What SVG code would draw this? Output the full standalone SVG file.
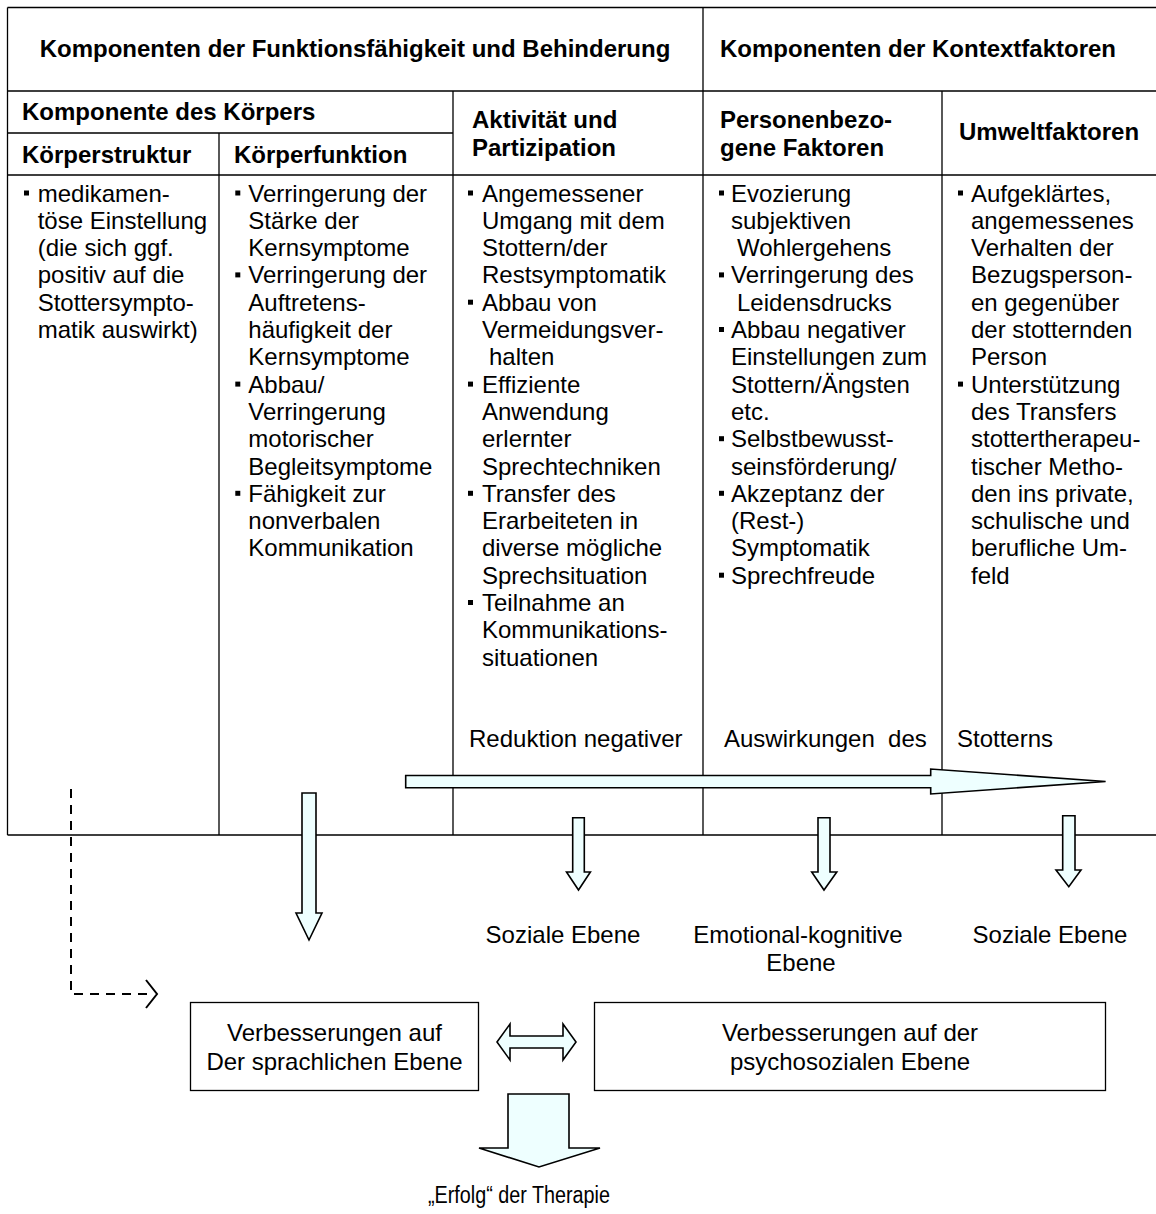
<svg xmlns="http://www.w3.org/2000/svg" width="1156" height="1214" viewBox="0 0 1156 1214">
<style>
.t{font-family:"Liberation Sans",Arial,sans-serif;font-size:24px;fill:#000}
.b{font-weight:bold}
.m{text-anchor:middle}
.ln{stroke:#000;stroke-width:1.3;fill:none}
.box{fill:#fff;stroke:#000;stroke-width:1.3}
.arr{fill:#EEFFFF;stroke:#000;stroke-width:1.6;stroke-linejoin:miter}
.dash{fill:none;stroke:#000;stroke-width:2;stroke-dasharray:9 7}
.head{fill:none;stroke:#000;stroke-width:2}
.blt{fill:#000}
</style>
<rect width="1156" height="1214" fill="#fff"/>
<g id="table-grid">
<path class="ln" d="M7.5,7.5 H1156 M7.5,91 H1156 M7.5,133 H453 M7.5,175 H1156 M7.5,835 H1156 M7.5,7.5 V835 M219,133 V835 M453,91 V835 M703,7.5 V835 M942,91 V835"/>
</g>
<g id="header-funktion"><text class="t b m" x="355" y="57">Komponenten der Funktionsfähigkeit und Behinderung</text></g>
<g id="header-kontext"><text class="t b" x="720" y="57">Komponenten der Kontextfaktoren</text></g>
<g id="header-koerper"><text class="t b" x="22" y="120">Komponente des Körpers</text></g>
<g id="header-struktur"><text class="t b" x="22" y="163">Körperstruktur</text></g>
<g id="header-funktion2"><text class="t b" x="234" y="163">Körperfunktion</text></g>
<g id="header-aktivitaet"><text class="t b" x="472" y="128"><tspan x="472">Aktivität und</tspan><tspan x="472" dy="28">Partizipation</tspan></text></g>
<g id="header-person"><text class="t b" x="720" y="128"><tspan x="720">Personenbezo-</tspan><tspan x="720" dy="28">gene Faktoren</tspan></text></g>
<g id="header-umwelt"><text class="t b" x="959" y="140">Umweltfaktoren</text></g>

<g id="col-struktur">
<rect class="blt" x="24" y="190.5" width="5" height="5"/>
<text class="t" y="201.5"><tspan x="37.7">medikamen-</tspan><tspan x="37.7" dy="27.3">töse Einstellung</tspan><tspan x="37.7" dy="27.3">(die sich ggf.</tspan><tspan x="37.7" dy="27.3">positiv auf die</tspan><tspan x="37.7" dy="27.3">Stottersympto-</tspan><tspan x="37.7" dy="27.3">matik auswirkt)</tspan></text>
</g>
<g id="col-funktion">
<rect class="blt" x="235.3" y="190.5" width="5" height="5"/>
<rect class="blt" x="235.3" y="272.4" width="5" height="5"/>
<rect class="blt" x="235.3" y="381.6" width="5" height="5"/>
<rect class="blt" x="235.3" y="490.8" width="5" height="5"/>
<text class="t" y="201.5"><tspan x="248.3">Verringerung der</tspan><tspan x="248.3" dy="27.3">Stärke der</tspan><tspan x="248.3" dy="27.3">Kernsymptome</tspan><tspan x="248.3" dy="27.3">Verringerung der</tspan><tspan x="248.3" dy="27.3">Auftretens-</tspan><tspan x="248.3" dy="27.3">häufigkeit der</tspan><tspan x="248.3" dy="27.3">Kernsymptome</tspan><tspan x="248.3" dy="27.3">Abbau/</tspan><tspan x="248.3" dy="27.3">Verringerung</tspan><tspan x="248.3" dy="27.3">motorischer</tspan><tspan x="248.3" dy="27.3">Begleitsymptome</tspan><tspan x="248.3" dy="27.3">Fähigkeit zur</tspan><tspan x="248.3" dy="27.3">nonverbalen</tspan><tspan x="248.3" dy="27.3">Kommunikation</tspan></text>
</g>
<g id="col-aktivitaet">
<rect class="blt" x="468" y="190.5" width="5" height="5"/>
<rect class="blt" x="468" y="299.7" width="5" height="5"/>
<rect class="blt" x="468" y="381.6" width="5" height="5"/>
<rect class="blt" x="468" y="490.8" width="5" height="5"/>
<rect class="blt" x="468" y="600" width="5" height="5"/>
<text class="t" y="201.5"><tspan x="482">Angemessener</tspan><tspan x="482" dy="27.3">Umgang mit dem</tspan><tspan x="482" dy="27.3">Stottern/der</tspan><tspan x="482" dy="27.3">Restsymptomatik</tspan><tspan x="482" dy="27.3">Abbau von</tspan><tspan x="482" dy="27.3">Vermeidungsver-</tspan><tspan x="489" dy="27.3">halten</tspan><tspan x="482" dy="27.3">Effiziente</tspan><tspan x="482" dy="27.3">Anwendung</tspan><tspan x="482" dy="27.3">erlernter</tspan><tspan x="482" dy="27.3">Sprechtechniken</tspan><tspan x="482" dy="27.3">Transfer des</tspan><tspan x="482" dy="27.3">Erarbeiteten in</tspan><tspan x="482" dy="27.3">diverse mögliche</tspan><tspan x="482" dy="27.3">Sprechsituation</tspan><tspan x="482" dy="27.3">Teilnahme an</tspan><tspan x="482" dy="27.3">Kommunikations-</tspan><tspan x="482" dy="27.3">situationen</tspan></text>
</g>
<g id="col-person">
<rect class="blt" x="719" y="190.5" width="5" height="5"/>
<rect class="blt" x="719" y="272.4" width="5" height="5"/>
<rect class="blt" x="719" y="327" width="5" height="5"/>
<rect class="blt" x="719" y="436.2" width="5" height="5"/>
<rect class="blt" x="719" y="490.8" width="5" height="5"/>
<rect class="blt" x="719" y="572.7" width="5" height="5"/>
<text class="t" y="201.5"><tspan x="731">Evozierung</tspan><tspan x="731" dy="27.3">subjektiven</tspan><tspan x="737" dy="27.3">Wohlergehens</tspan><tspan x="731" dy="27.3">Verringerung des</tspan><tspan x="737" dy="27.3">Leidensdrucks</tspan><tspan x="731" dy="27.3">Abbau negativer</tspan><tspan x="731" dy="27.3">Einstellungen zum</tspan><tspan x="731" dy="27.3">Stottern/Ängsten</tspan><tspan x="731" dy="27.3">etc.</tspan><tspan x="731" dy="27.3">Selbstbewusst-</tspan><tspan x="731" dy="27.3">seinsförderung/</tspan><tspan x="731" dy="27.3">Akzeptanz der</tspan><tspan x="731" dy="27.3">(Rest-)</tspan><tspan x="731" dy="27.3">Symptomatik</tspan><tspan x="731" dy="27.3">Sprechfreude</tspan></text>
</g>
<g id="col-umwelt">
<rect class="blt" x="958" y="190.5" width="5" height="5"/>
<rect class="blt" x="958" y="381.6" width="5" height="5"/>
<text class="t" y="201.5"><tspan x="971">Aufgeklärtes,</tspan><tspan x="971" dy="27.3">angemessenes</tspan><tspan x="971" dy="27.3">Verhalten der</tspan><tspan x="971" dy="27.3">Bezugsperson-</tspan><tspan x="971" dy="27.3">en gegenüber</tspan><tspan x="971" dy="27.3">der stotternden</tspan><tspan x="971" dy="27.3">Person</tspan><tspan x="971" dy="27.3">Unterstützung</tspan><tspan x="971" dy="27.3">des Transfers</tspan><tspan x="971" dy="27.3">stottertherapeu-</tspan><tspan x="971" dy="27.3">tischer Metho-</tspan><tspan x="971" dy="27.3">den ins private,</tspan><tspan x="971" dy="27.3">schulische und</tspan><tspan x="971" dy="27.3">berufliche Um-</tspan><tspan x="971" dy="27.3">feld</tspan></text>
</g>
<g id="reduktion-label">
<text class="t" x="469" y="747" xml:space="preserve">Reduktion negativer</text>
<text class="t" x="724" y="747" xml:space="preserve">Auswirkungen  des</text>
<text class="t" x="957" y="747">Stotterns</text>
</g>

<g id="connectors">
<path class="arr" d="M405.7,775.5 H930.7 V769 L1105.6,781.5 L930.7,794 V787.8 H405.7 Z"/>
<path class="arr" d="M302,793 H316 V913 H322 L309,940 L296,913 H302 Z"/>
<path class="arr" d="M572.7,817.7 H584.3 V872 H590.4 L578.5,890 L566.5,872 H572.7 Z"/>
<path class="arr" d="M818,817.7 H830 V872 H836.8 L824,890 L811.7,872 H818 Z"/>
<path class="arr" d="M1062.7,815.7 H1075 V870 H1081 L1068.8,886.7 L1056,870 H1062.7 Z"/>
<path class="dash" d="M71,789 V994 H154"/>
<polyline class="head" points="146,980 157,994 146,1008"/>
<path class="arr" d="M497,1042 L510,1024 V1036 H563 V1024 L576,1042 L563,1060 V1048 H510 V1060 Z"/>
<path class="arr" d="M508,1094 H569 V1148 H600 L539,1167 L479,1148 H508 Z"/>
</g>

<g id="label-soziale1"><text class="t m" x="563" y="943">Soziale Ebene</text></g>
<g id="label-emotional"><text class="t m" x="798" y="943"><tspan x="798">Emotional-kognitive</tspan><tspan x="801" dy="27.5">Ebene</tspan></text></g>
<g id="label-soziale2"><text class="t m" x="1050" y="943">Soziale Ebene</text></g>

<g id="box-sprachlich">
<rect class="box" x="190.5" y="1002.5" width="288" height="88"/>
<text class="t m" x="334.5" y="1041"><tspan x="334.5">Verbesserungen auf</tspan><tspan x="334.5" dy="28.5">Der sprachlichen Ebene</tspan></text>
</g>
<g id="box-psychosozial">
<rect class="box" x="594.5" y="1002.5" width="511" height="88"/>
<text class="t m" x="850" y="1041"><tspan x="850">Verbesserungen auf der</tspan><tspan x="850" dy="28.5">psychosozialen Ebene</tspan></text>
</g>
<g id="label-erfolg"><text class="t" x="428" y="1203" style="font-size:23px" textLength="182" lengthAdjust="spacingAndGlyphs">„Erfolg“ der Therapie</text></g>
</svg>
